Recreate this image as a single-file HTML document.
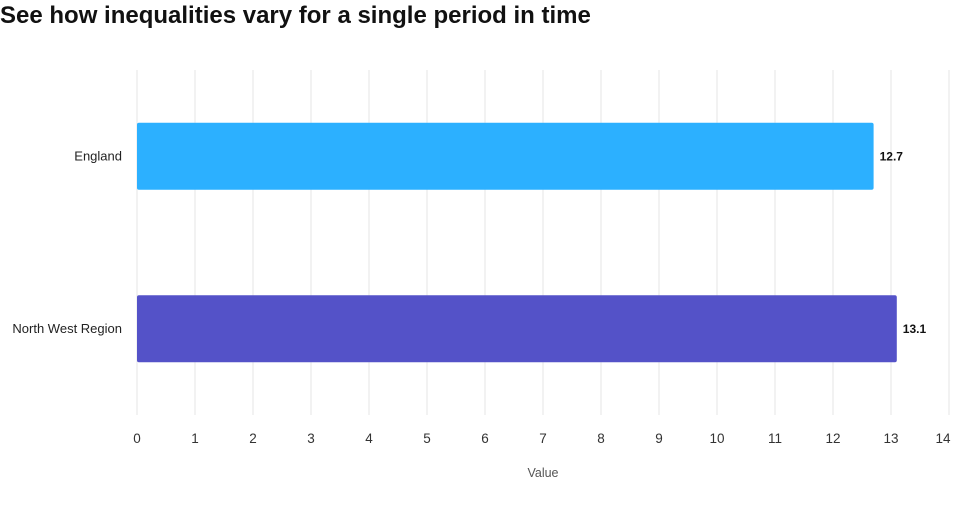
<!DOCTYPE html>
<html><head><meta charset="utf-8"><style>
body{margin:0;background:#fff;font-family:"Liberation Sans",Arial,sans-serif;}
#wrap{position:relative;width:960px;height:530px;overflow:hidden}
h1{position:absolute;left:0;top:2px;margin:0;font-size:24px;font-weight:bold;color:#111}
</style></head><body>
<div id="wrap">
<h1>See how inequalities vary for a single period in time</h1>
<svg id="chart" width="960" height="530" style="position:absolute;left:0;top:0"></svg>
</div>
<script>
const categories=["England","North West Region"];
const values=[12.7,13.1];
const colors=["#2cb0ff","#5452c8"];
const ticks=[0,1,2,3,4,5,6,7,8,9,10,11,12,13,14];
const NS="http://www.w3.org/2000/svg";
const svg=document.getElementById('chart');
const x0=137,x1=949,xmax=14,yTop=70,yBot=415;
function xs(v){return x0+(x1-x0)*v/xmax;}
const band=(yBot-yTop)/categories.length;
function mk(t,a){const e=document.createElementNS(NS,t);for(const k in a)e.setAttribute(k,a[k]);svg.appendChild(e);return e;}
ticks.forEach((t,i)=>{
 const g=mk('line',{x1:xs(t),x2:xs(t),y1:yTop,y2:yBot,stroke:'#e6e6e6','stroke-width':1});
 
 
 const lx=i===ticks.length-1?xs(t)-6:xs(t);
 const l=mk('text',{x:lx,y:443,'text-anchor':'middle','font-size':13.5,fill:'#333'});
 l.textContent=t;
 
 
});
const at=mk('text',{x:543,y:477,'text-anchor':'middle','font-size':12.5,fill:'#555'});
at.textContent='Value';


categories.forEach((c,i)=>{
 const cy=yTop+band*(i+0.5);
 const h=67;
 const r=mk('rect',{x:xs(0),y:cy-h/2,width:xs(values[i])-xs(0),height:h,fill:colors[i],rx:2});
 
 
 const lb=mk('text',{x:122,y:cy+4,'text-anchor':'end','font-size':13,fill:'#222'});
 lb.textContent=c;
 
 
 const v=mk('text',{x:xs(values[i])+6,y:cy+4,'font-size':12,'font-weight':'bold',fill:'#111'});
 v.textContent=values[i];
 
 
});
</script>
</body></html>
